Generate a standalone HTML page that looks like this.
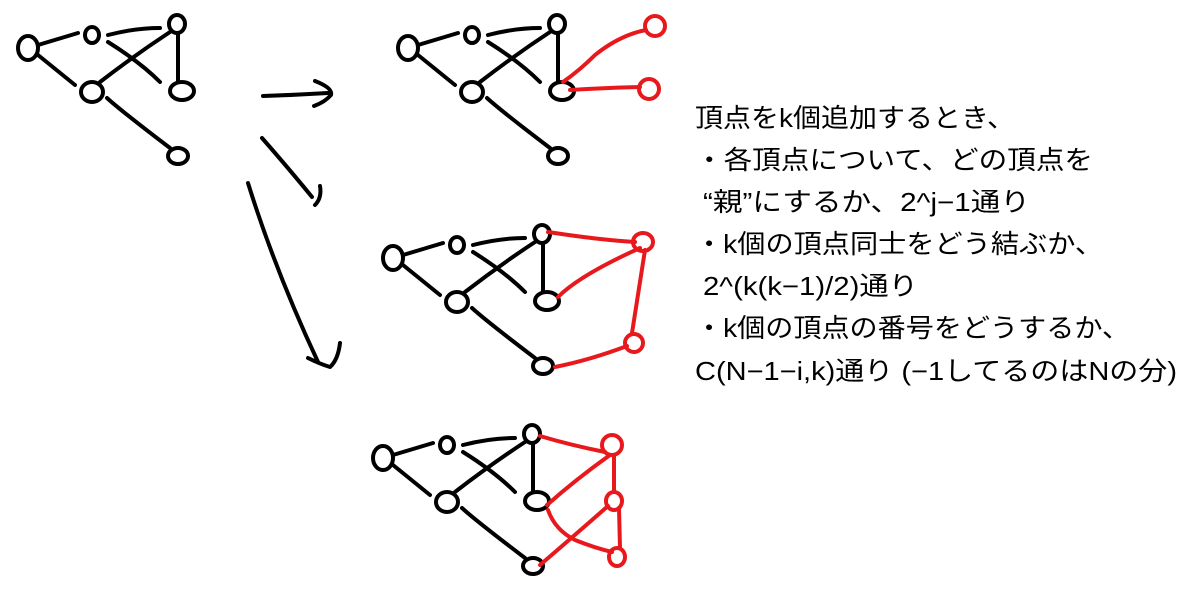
<!DOCTYPE html>
<html><head><meta charset="utf-8"><style>
html,body{margin:0;padding:0;background:#fff;}
svg{display:block}
text{font-family:"Liberation Sans","Noto Sans CJK JP",sans-serif;font-size:26px;fill:#000}
</style></head><body>
<svg width="1200" height="605" viewBox="0 0 1200 605" xmlns="http://www.w3.org/2000/svg">
<defs>
<g id="base" fill="none" stroke="#000" stroke-width="4" stroke-linecap="round">
  <ellipse cx="28" cy="48" rx="10" ry="12"/>
  <ellipse cx="92" cy="35" rx="7" ry="8"/>
  <ellipse cx="177" cy="24" rx="8" ry="9"/>
  <ellipse cx="92" cy="92" rx="11" ry="10"/>
  <ellipse cx="182" cy="91" rx="12" ry="9"/>
  <ellipse cx="178" cy="156" rx="10" ry="8"/>
  <path d="M38 45 L78 33"/>
  <path d="M108 35 Q135 28 160 28"/>
  <path d="M108 42 Q140 62 160 82"/>
  <path d="M100 82 Q135 55 170 32"/>
  <path d="M178 35 L178 82"/>
  <path d="M38 55 L75 85"/>
  <path d="M107 98 Q120 110 170 148"/>
</g>
</defs>
<use href="#base"/>
<use href="#base" transform="translate(380,0)"/>
<use href="#base" transform="translate(365,210)"/>
<use href="#base" transform="translate(355,410)"/>

<g fill="none" stroke="#e8191c" stroke-width="4" stroke-linecap="round">
  <ellipse cx="655" cy="26" rx="10" ry="10"/>
  <ellipse cx="649" cy="89" rx="10" ry="10"/>
  <path d="M563 82 Q580 70 595 55 Q620 35 646 30"/>
  <path d="M570 90 Q600 88 640 87"/>
  <ellipse cx="643" cy="242" rx="10" ry="9"/>
  <ellipse cx="634" cy="343" rx="9" ry="9"/>
  <path d="M548 232 Q600 240 635 242"/>
  <path d="M558 297 Q580 275 640 248"/>
  <path d="M645 250 L632 333"/>
  <path d="M555 367 Q590 360 627 346"/>
  <ellipse cx="612" cy="445" rx="10" ry="10"/>
  <ellipse cx="614" cy="501" rx="8" ry="9"/>
  <ellipse cx="617" cy="557" rx="8" ry="9"/>
  <path d="M540 436 Q570 445 605 452"/>
  <path d="M547 505 Q575 480 610 455"/>
  <path d="M614 455 L614 492"/>
  <path d="M548 510 Q555 530 575 540 Q595 548 612 552"/>
  <path d="M540 565 Q575 535 608 506"/>
  <path d="M619 508 L620 548"/>
</g>

<g fill="none" stroke="#000" stroke-width="4" stroke-linecap="round" stroke-linejoin="round">
  <path d="M263 96 Q295 95 328 93"/>
  <path d="M315 81 Q333 88 331 95 Q325 102 314 106"/>
  <path d="M262 138 Q290 170 312 197"/>
  <path d="M320 186 Q322 198 315 205"/>
  <path d="M248 183 Q275 270 318 362"/>
  <path d="M340 343 Q338 360 330 367 Q320 364 308 358"/>
</g>

<text x="695" y="127" textLength="320" lengthAdjust="spacingAndGlyphs">頂点をk個追加するとき、</text>
<text x="695" y="169" textLength="398" lengthAdjust="spacingAndGlyphs">・各頂点について、どの頂点を</text>
<text x="703" y="211" textLength="327" lengthAdjust="spacingAndGlyphs">“親”にするか、2^j−1通り</text>
<text x="695" y="253" textLength="408" lengthAdjust="spacingAndGlyphs">・k個の頂点同士をどう結ぶか、</text>
<text x="703" y="295" textLength="215" lengthAdjust="spacingAndGlyphs">2^(k(k−1)/2)通り</text>
<text x="695" y="337" textLength="435" lengthAdjust="spacingAndGlyphs">・k個の頂点の番号をどうするか、</text>
<text x="695" y="380" textLength="482" lengthAdjust="spacingAndGlyphs">C(N−1−i,k)通り (−1してるのはNの分)</text>
</svg>
</body></html>
